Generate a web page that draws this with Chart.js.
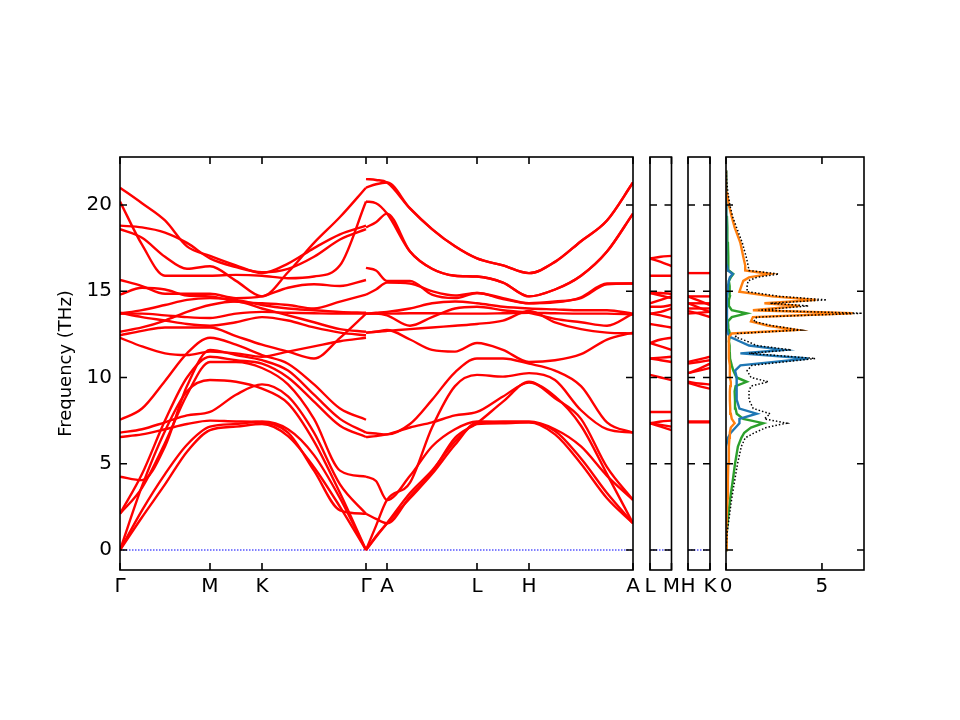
<!DOCTYPE html>
<html>
<head>
<meta charset="utf-8">
<title>Phonon bands and DOS</title>
<script src="https://cdn.jsdelivr.net/npm/chart.js@4.4.1/dist/chart.umd.min.js"></script>
<style>
    body { margin: 0; background: #fff; }
    #wrap { position: relative; width: 960px; height: 720px; overflow: hidden; }
    #wrap canvas { position: absolute; top: 137px; }
</style>
</head>
<body>
<div id="wrap">
    <canvas id="bands" width="660" height="483" style="left:0px"></canvas>
    <canvas id="lm" width="75" height="483" style="left:625px"></canvas>
    <canvas id="hk" width="70" height="483" style="left:665px"></canvas>
    <canvas id="dos" width="200" height="483" style="left:700px"></canvas>
</div>
<script>
// frequency axis shared by every panel
const freqMin = -1.16;
const freqMax = 22.78;
const freqTicks = [0, 5, 10, 15, 20];

// main path: Γ-M-K-Γ | Γ-A-L-H-A (distance along path)
const pathTicks = [0, 90, 142, 246, 267, 357, 409, 513];
const pathLabels = ['Γ', 'M', 'K', 'Γ', 'A', 'L', 'H', 'A'];

// Γ-M-K-Γ
const seg1X = [0, 22, 45, 67, 90, 116, 142, 168, 194, 220, 246];
const seg1Bands = [
    [0, 1.9, 3.8, 5.7, 6.95, 7.15, 7.3, 6.6, 4.8, 2.5, 0],
    [0, 2.3, 4.4, 6.1, 7.15, 7.3, 7.45, 7.0, 5.5, 3.0, 0],
    [0, 3.7, 6.9, 9.2, 9.85, 9.75, 9.35, 8.5, 6.3, 3.3, 0],
    [2.1, 3.6, 6.2, 9.0, 10.9, 10.9, 10.55, 9.6, 7.6, 4.6, 4.25],
    [2.1, 4.4, 7.5, 10.0, 11.2, 11.0, 10.8, 10.0, 8.6, 7.2, 6.55],
    [4.25, 4.05, 6.0, 9.5, 11.6, 11.3, 11.0, 10.4, 9.0, 7.6, 6.8],
    [6.55, 6.7, 7.0, 7.3, 7.5, 7.45, 7.4, 6.8, 4.6, 2.3, 2.1],
    [6.8, 7.0, 7.4, 7.8, 8.0, 9.0, 9.6, 8.9, 6.8, 3.8, 2.1],
    [7.55, 8.2, 9.8, 11.4, 12.3, 11.9, 11.3, 10.8, 9.6, 8.2, 7.55],
    [12.3, 11.8, 11.4, 11.3, 11.5, 11.4, 11.2, 11.5, 11.8, 12.1, 12.3],
    [12.45, 12.7, 12.9, 12.9, 12.9, 12.4, 11.9, 11.5, 11.1, 12.3, 13.7],
    [12.65, 12.9, 13.3, 13.8, 14.2, 14.4, 14.0, 13.6, 13.2, 12.8, 12.65],
    [13.75, 13.5, 13.3, 13.1, 13.0, 13.2, 13.5, 13.3, 12.9, 12.6, 12.45],
    [13.7, 13.7, 13.6, 13.5, 13.45, 13.7, 13.8, 13.75, 13.72, 13.7, 13.7],
    [13.7, 13.9, 14.2, 14.5, 14.6, 14.5, 14.2, 14.0, 13.9, 13.8, 13.75],
    [14.8, 15.2, 15.1, 14.75, 14.7, 14.4, 14.3, 14.2, 14.0, 14.4, 14.8],
    [15.65, 15.3, 14.85, 14.85, 14.85, 14.6, 14.7, 15.2, 15.4, 15.3, 15.65],
    [20.2, 17.7, 15.9, 15.9, 15.9, 15.95, 15.9, 15.75, 15.85, 16.5, 20.2],
    [18.6, 18.1, 17.0, 16.3, 16.45, 15.6, 14.7, 16.1, 17.8, 19.3, 21.0],
    [18.8, 18.7, 18.4, 17.8, 16.9, 16.4, 16.1, 16.3, 17.0, 18.0, 18.6],
    [21.0, 20.1, 19.1, 17.6, 17.05, 16.5, 16.05, 16.6, 17.5, 18.3, 18.8]
];

// Γ-A-L-H-A
const seg2X = [246, 256, 267, 290, 312, 335, 357, 383, 409, 435, 461, 487, 513];
const seg2Bands = [
    [0, 0.75, 1.55, 3.3, 4.6, 6.3, 7.3, 7.35, 7.4, 6.9, 5.3, 3.3, 1.55],
    [0, 0.8, 1.55, 3.0, 4.4, 6.1, 7.4, 7.45, 7.45, 7.0, 6.0, 4.3, 2.9],
    [0, 1.4, 2.9, 3.9, 7.1, 9.5, 10.15, 10.05, 10.25, 9.85, 8.1, 7.0, 6.8],
    [2.1, 1.8, 1.55, 3.1, 4.5, 6.5, 7.35, 8.6, 9.75, 8.8, 7.6, 4.8, 2.9],
    [6.55, 6.6, 6.7, 7.1, 7.4, 7.8, 8.0, 8.9, 9.7, 8.9, 7.2, 4.4, 1.55],
    [6.8, 6.75, 6.7, 7.3, 8.7, 10.3, 11.1, 11.1, 10.8, 10.4, 9.5, 7.4, 6.8],
    [4.25, 4.0, 2.9, 4.3, 6.0, 7.0, 7.45, 7.4, 7.4, 6.7, 5.0, 3.0, 1.55],
    [12.6, 12.65, 12.75, 12.2, 11.6, 11.5, 12.0, 11.6, 10.9, 11.0, 11.35, 12.2, 12.6],
    [12.6, 12.65, 12.7, 12.8, 12.9, 13.0, 13.1, 13.3, 13.85, 13.2, 12.8, 12.6, 12.55],
    [13.7, 13.7, 13.6, 13.0, 13.5, 14.0, 14.1, 13.9, 13.75, 13.4, 13.2, 13.0, 13.7],
    [13.7, 13.7, 13.7, 13.72, 13.72, 13.7, 13.7, 13.72, 13.75, 13.72, 13.7, 13.7, 13.65],
    [13.7, 13.75, 13.8, 14.0, 14.3, 14.4, 14.3, 14.1, 14.0, 13.95, 13.9, 13.9, 13.7],
    [14.8, 15.1, 15.5, 15.45, 15.0, 14.75, 14.9, 14.55, 14.3, 14.35, 14.65, 15.45, 15.45],
    [16.35, 16.2, 15.6, 15.6, 14.8, 14.6, 14.9, 14.6, 14.3, 14.4, 14.6, 15.4, 15.45],
    [18.7, 19.0, 19.5, 17.3, 16.3, 15.9, 15.85, 15.5, 14.7, 15.1, 15.9, 17.3, 19.5],
    [20.2, 20.1, 19.5, 17.3, 16.3, 15.9, 15.85, 15.5, 14.7, 15.1, 15.9, 17.3, 19.5],
    [21.0, 21.2, 21.3, 19.8, 18.6, 17.6, 16.9, 16.5, 16.05, 16.7, 17.9, 19.1, 21.3],
    [21.5, 21.45, 21.3, 19.8, 18.6, 17.6, 16.9, 16.5, 16.05, 16.7, 17.9, 19.1, 21.3]
];

// L-M
const lmX = [0, 0.5, 1];
const lmLabels = ['L', 'M'];
const lmBands = [
    [16.9, 17.0, 17.05], [16.9, 16.7, 16.45], [15.9, 15.9, 15.9],
    [14.9, 14.9, 14.85], [14.9, 14.75, 14.6], [14.3, 14.5, 14.7],
    [14.1, 14.1, 14.2], [13.7, 13.6, 13.45], [13.7, 13.8, 14.0],
    [13.1, 13.0, 12.9], [12.0, 12.2, 12.3], [12.0, 11.8, 11.6],
    [11.1, 11.15, 11.2], [11.1, 11.0, 10.9], [10.15, 10.0, 9.85],
    [8.0, 8.0, 8.0], [7.35, 7.45, 7.5], [7.35, 7.25, 7.15], [7.35, 7.15, 6.95]
];

// H-K
const hkX = [0, 0.5, 1];
const hkLabels = ['H', 'K'];
const hkBands = [
    [16.05, 16.05, 16.05], [14.7, 14.7, 14.7], [14.7, 14.45, 14.2],
    [14.3, 14.3, 14.3], [14.3, 14.05, 13.8], [14.0, 14.0, 14.0],
    [13.85, 13.7, 13.5], [13.7, 13.75, 13.8], [10.9, 11.05, 11.2],
    [10.8, 10.9, 11.0], [10.25, 10.4, 10.55], [10.25, 10.5, 10.8],
    [9.75, 9.65, 9.6], [9.7, 9.5, 9.35], [7.4, 7.4, 7.4], [7.45, 7.45, 7.45]
];

// density of states
const dosTicks = [0, 5];
const dosFreq = [0, 1, 2, 3, 4, 5, 6, 6.5, 6.8, 7.1, 7.35, 7.6, 7.9, 8.2, 8.7, 9.2, 9.5, 9.75, 10.0, 10.4,
    10.7, 11.1, 11.4, 11.6, 11.85, 12.1, 12.35, 12.55, 12.75, 13.0, 13.25, 13.5, 13.72, 13.9, 14.15, 14.3,
    14.5, 14.7, 14.97, 15.3, 15.6, 15.8, 16.0, 16.2, 16.5, 17.0, 17.8, 18.7, 19.3, 20.0, 20.7, 21.5, 22.0];
const dosTotal = [0, 0.06, 0.18, 0.3, 0.45, 0.6, 0.8, 1.0, 1.5, 2.1, 3.16, 2.0, 2.3, 1.42, 1.2, 1.2, 1.3, 2.2, 1.3, 1.1,
    1.35, 4.65, 1.2, 3.4, 1.6, 1.1, 0.5, 0.6, 3.9, 2.4, 1.45, 1.6, 7.1, 1.7, 4.3, 2.3,
    5.25, 2.8, 1.1, 1.1, 1.15, 1.6, 2.75, 1.2, 1.15, 1.05, 0.85, 0.55, 0.35, 0.2, 0.1, 0.03, 0];
const dosOrange = [0, 0.02, 0.05, 0.08, 0.1, 0.12, 0.15, 0.18, 0.2, 0.25, 0.45, 0.3, 0.25, 0.22, 0.2, 0.2, 0.22, 0.25, 0.2, 0.2,
    0.2, 0.15, 0.15, 0.15, 0.15, 0.15, 0.15, 0.3, 3.7, 2.2, 1.3, 1.4, 6.6, 1.4, 3.85, 2.0,
    4.7, 2.4, 0.7, 0.8, 0.9, 1.2, 2.3, 1.0, 1.0, 0.9, 0.75, 0.45, 0.3, 0.15, 0.05, 0, 0];
const dosBlue = [0, 0, 0, 0, 0, 0, 0.02, 0.1, 0.25, 0.5, 0.7, 0.7, 1.6, 0.7, 0.56, 0.55, 0.55, 0.56, 0.56, 0.47,
    0.75, 4.3, 0.75, 3.0, 1.2, 0.7, 0.2, 0.1, 0.05, 0.05, 0.05, 0.05, 0.05, 0.05, 0.05, 0.05,
    0.05, 0.05, 0.08, 0.1, 0.15, 0.2, 0.35, 0.1, 0.05, 0.03, 0.02, 0.02, 0.01, 0, 0, 0, 0];
const dosGreen = [0, 0.04, 0.12, 0.22, 0.35, 0.47, 0.62, 0.8, 0.95, 1.3, 1.94, 0.9, 0.56, 0.5, 0.47, 0.45, 0.5, 1.08, 0.55, 0.38,
    0.3, 0.21, 0.2, 0.2, 0.18, 0.15, 0.2, 0.2, 0.15, 0.12, 0.1, 0.3, 1.08, 0.3, 0.15, 0.15,
    0.15, 0.2, 0.2, 0.18, 0.15, 0.25, 0.38, 0.15, 0.12, 0.12, 0.1, 0.07, 0.05, 0.03, 0.02, 0, 0];

const FONT = 'DejaVu Sans';

// box round each panel plus inward ticks on all four sides
const frameTicks = {
    id: 'frameTicks',
    afterDraw(chart, args, opts) {
        const { ctx, chartArea, scales } = chart;
        const { left, right, top, bottom } = chartArea;
        const len = 7;
        ctx.save();
        ctx.strokeStyle = '#000';
        ctx.lineWidth = 1.6;
        ctx.beginPath();
        (opts.yTicks || []).forEach(v => {
            const y = scales.y.getPixelForValue(v);
            ctx.moveTo(left, y); ctx.lineTo(left + len, y);
            ctx.moveTo(right, y); ctx.lineTo(right - len, y);
        });
        (opts.xTicks || []).forEach(v => {
            const x = scales.x.getPixelForValue(v);
            ctx.moveTo(x, bottom); ctx.lineTo(x, bottom - len);
            ctx.moveTo(x, top); ctx.lineTo(x, top + len);
        });
        ctx.stroke();
        ctx.strokeRect(left, top, right - left, bottom - top);
        ctx.restore();
    }
};

function toPoints(xs, ys) {
    return xs.map((x, i) => ({ x: x, y: ys[i] }));
}

function bandDataset(xs, ys) {
    return {
        data: toPoints(xs, ys),
        borderColor: '#ff0000',
        borderWidth: 2.4,
        pointRadius: 0,
        showLine: true,
        fill: false,
        tension: 0.4,
        cubicInterpolationMode: 'monotone'
    };
}

function zeroLine(xMin, xMax) {
    return {
        data: [{ x: xMin, y: 0 }, { x: xMax, y: 0 }],
        borderColor: '#0000ff',
        borderWidth: 1.2,
        borderDash: [1.5, 1.5],
        pointRadius: 0,
        showLine: true,
        fill: false
    };
}

function xScale(min, max, tickValues, labels) {
    return {
        type: 'linear',
        min: min,
        max: max,
        grid: { display: false, drawTicks: false },
        border: { display: false },
        afterBuildTicks: scale => { scale.ticks = tickValues.map(v => ({ value: v })); },
        afterFit: scale => { scale.height = 30; },
        ticks: {
            autoSkip: false,
            maxRotation: 0,
            padding: 5,
            color: '#000',
            font: { family: FONT, size: 20 },
            callback: (value, index) => labels[index]
        }
    };
}

function yScale(showLabels) {
    return {
        type: 'linear',
        min: freqMin,
        max: freqMax,
        display: showLabels,
        grid: { display: false, drawTicks: false },
        border: { display: false },
        afterBuildTicks: scale => { scale.ticks = freqTicks.map(v => ({ value: v })); },
        afterFit: scale => { if (showLabels) scale.width = 120; },
        ticks: {
            padding: 8,
            color: '#000',
            font: { family: FONT, size: 20 }
        },
        title: {
            display: showLabels,
            text: 'Frequency (THz)',
            color: '#000',
            font: { family: FONT, size: 18 },
            padding: { top: 56, bottom: 0 }
        }
    };
}

function panelConfig(datasets, x, showY, padding, xTicks) {
    return {
        type: 'scatter',
        data: { datasets: datasets },
        options: {
            responsive: false,
            animation: false,
            layout: { padding: padding },
            plugins: {
                legend: { display: false },
                tooltip: { enabled: false },
                frameTicks: { xTicks: xTicks, yTicks: freqTicks }
            },
            scales: { x: x, y: yScale(showY) }
        },
        plugins: [frameTicks]
    };
}

function renderBands(canvas) {
    const datasets = [];
    seg1Bands.forEach(b => datasets.push(bandDataset(seg1X, b)));
    seg2Bands.forEach(b => datasets.push(bandDataset(seg2X, b)));
    datasets.push(zeroLine(0, 513));
    const x = xScale(0, 513, pathTicks, pathLabels);
    new Chart(canvas, panelConfig(datasets, x, true, { left: 0, right: 27, top: 20, bottom: 20 }, pathTicks));
}

function renderSmallPanel(canvas, xs, bands, labels, padding) {
    const datasets = bands.map(b => bandDataset(xs, b));
    datasets.push(zeroLine(0, 1));
    const x = xScale(0, 1, [0, 1], labels);
    new Chart(canvas, panelConfig(datasets, x, false, padding, [0, 1]));
}

function dosDataset(values, color, width, dash) {
    return {
        data: values.map((v, i) => ({ x: v, y: dosFreq[i] })),
        borderColor: color,
        borderWidth: width,
        borderDash: dash || [],
        pointRadius: 0,
        showLine: true,
        fill: false,
        tension: 0
    };
}

function renderDos(canvas) {
    const datasets = [
        dosDataset(dosTotal, '#000000', 1.5, [1.5, 2]),
        dosDataset(dosOrange, '#ff7f0e', 2.4),
        dosDataset(dosBlue, '#1f77b4', 2.4),
        dosDataset(dosGreen, '#2ca02c', 2.4)
    ];
    const x = xScale(0, 7.19, dosTicks, ['0', '5']);
    new Chart(canvas, panelConfig(datasets, x, false, { left: 26, right: 36, top: 20, bottom: 20 }, dosTicks));
}

try {
    renderBands(document.getElementById('bands'));
    renderSmallPanel(document.getElementById('lm'), lmX, lmBands, lmLabels, { left: 25, right: 28.5, top: 20, bottom: 20 });
    renderSmallPanel(document.getElementById('hk'), hkX, hkBands, hkLabels, { left: 23, right: 25, top: 20, bottom: 20 });
    renderDos(document.getElementById('dos'));
} catch (error) {
    console.error('Error rendering charts:', error);
}
</script>
</body>
</html>
